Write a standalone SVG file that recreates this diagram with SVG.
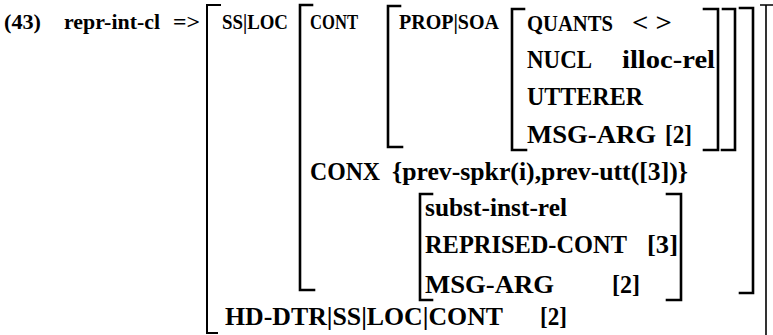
<svg xmlns="http://www.w3.org/2000/svg" width="773" height="335" viewBox="0 0 773 335">
<style>
  .t { font-family: 'Liberation Serif', 'Times New Roman', serif; font-size: 25px; font-weight: 700; fill: #000; }
  .s { font-size: 22px; }
  .br { fill: none; stroke: #000; stroke-width: 2.6; stroke-linecap: square; }
  .outer { fill: none; stroke: #000; stroke-width: 2; stroke-linecap: square; }
  .thin { fill: none; stroke: #000; stroke-width: 1.6; }
</style>
<rect width="773" height="335" fill="#fff"/>
<g id="brackets">
  <path class="outer" d="M220 5 H207 V333 H217"/>
  <path class="br" d="M312 5 H300 V290 H314"/>
  <path class="br" d="M400 6 H388 V147 H402"/>
  <path class="br" d="M524 9 H512 V150 H526"/>
  <path class="br" d="M704 9 H718 V150 H704"/>
  <path class="br" d="M723 9 H735 V150 H722"/>
  <path class="br" d="M740 8 H753 V293 H740"/>
  <path class="br" d="M432 194 H420 V300 H432"/>
  <path class="br" d="M667 194 H681 V300 H667"/>
  <path class="thin" d="M760 5 H773 M766 5 V335"/>
</g>
<g id="labels" class="t">
  <text class="s" x="4" y="29" textLength="37" lengthAdjust="spacingAndGlyphs">(43)</text>
  <text class="s" x="64" y="29" textLength="96" lengthAdjust="spacingAndGlyphs">repr-int-cl</text>
  <text class="s" x="173" y="29" textLength="27" lengthAdjust="spacingAndGlyphs">=&gt;</text>
  <text class="s" x="222" y="29" textLength="66" lengthAdjust="spacingAndGlyphs">SS|LOC</text>
  <text class="s" x="310" y="29" textLength="48" lengthAdjust="spacingAndGlyphs">CONT</text>
  <text class="s" x="399" y="29" textLength="100" lengthAdjust="spacingAndGlyphs">PROP|SOA</text>
  <text x="527" y="31" font-size="23" textLength="86" lengthAdjust="spacingAndGlyphs">QUANTS</text>
  <text x="632" y="31" textLength="40" lengthAdjust="spacingAndGlyphs">&lt; &gt;</text>
  <text x="527" y="68" textLength="65" lengthAdjust="spacingAndGlyphs">NUCL</text>
  <text x="622" y="68" textLength="93" lengthAdjust="spacingAndGlyphs">illoc-rel</text>
  <text x="527" y="105" textLength="116" lengthAdjust="spacingAndGlyphs">UTTERER</text>
  <text x="527" y="143" textLength="129" lengthAdjust="spacingAndGlyphs">MSG-ARG</text>
  <text x="665" y="143" textLength="27" lengthAdjust="spacingAndGlyphs">[2]</text>
  <text x="310" y="180" textLength="70" lengthAdjust="spacingAndGlyphs">CONX</text>
  <text x="392" y="180" textLength="296" lengthAdjust="spacingAndGlyphs">{prev-spkr(i),prev-utt([3])}</text>
  <text x="425" y="216" textLength="142" lengthAdjust="spacingAndGlyphs">subst-inst-rel</text>
  <text x="425" y="253" textLength="202" lengthAdjust="spacingAndGlyphs">REPRISED-CONT</text>
  <text x="647" y="253" textLength="31" lengthAdjust="spacingAndGlyphs">[3]</text>
  <text x="425" y="293" textLength="129" lengthAdjust="spacingAndGlyphs">MSG-ARG</text>
  <text x="612" y="293" textLength="28" lengthAdjust="spacingAndGlyphs">[2]</text>
  <text x="225" y="325" textLength="278" lengthAdjust="spacingAndGlyphs">HD-DTR|SS|LOC|CONT</text>
  <text x="540" y="325" textLength="27" lengthAdjust="spacingAndGlyphs">[2]</text>
</g>
</svg>
